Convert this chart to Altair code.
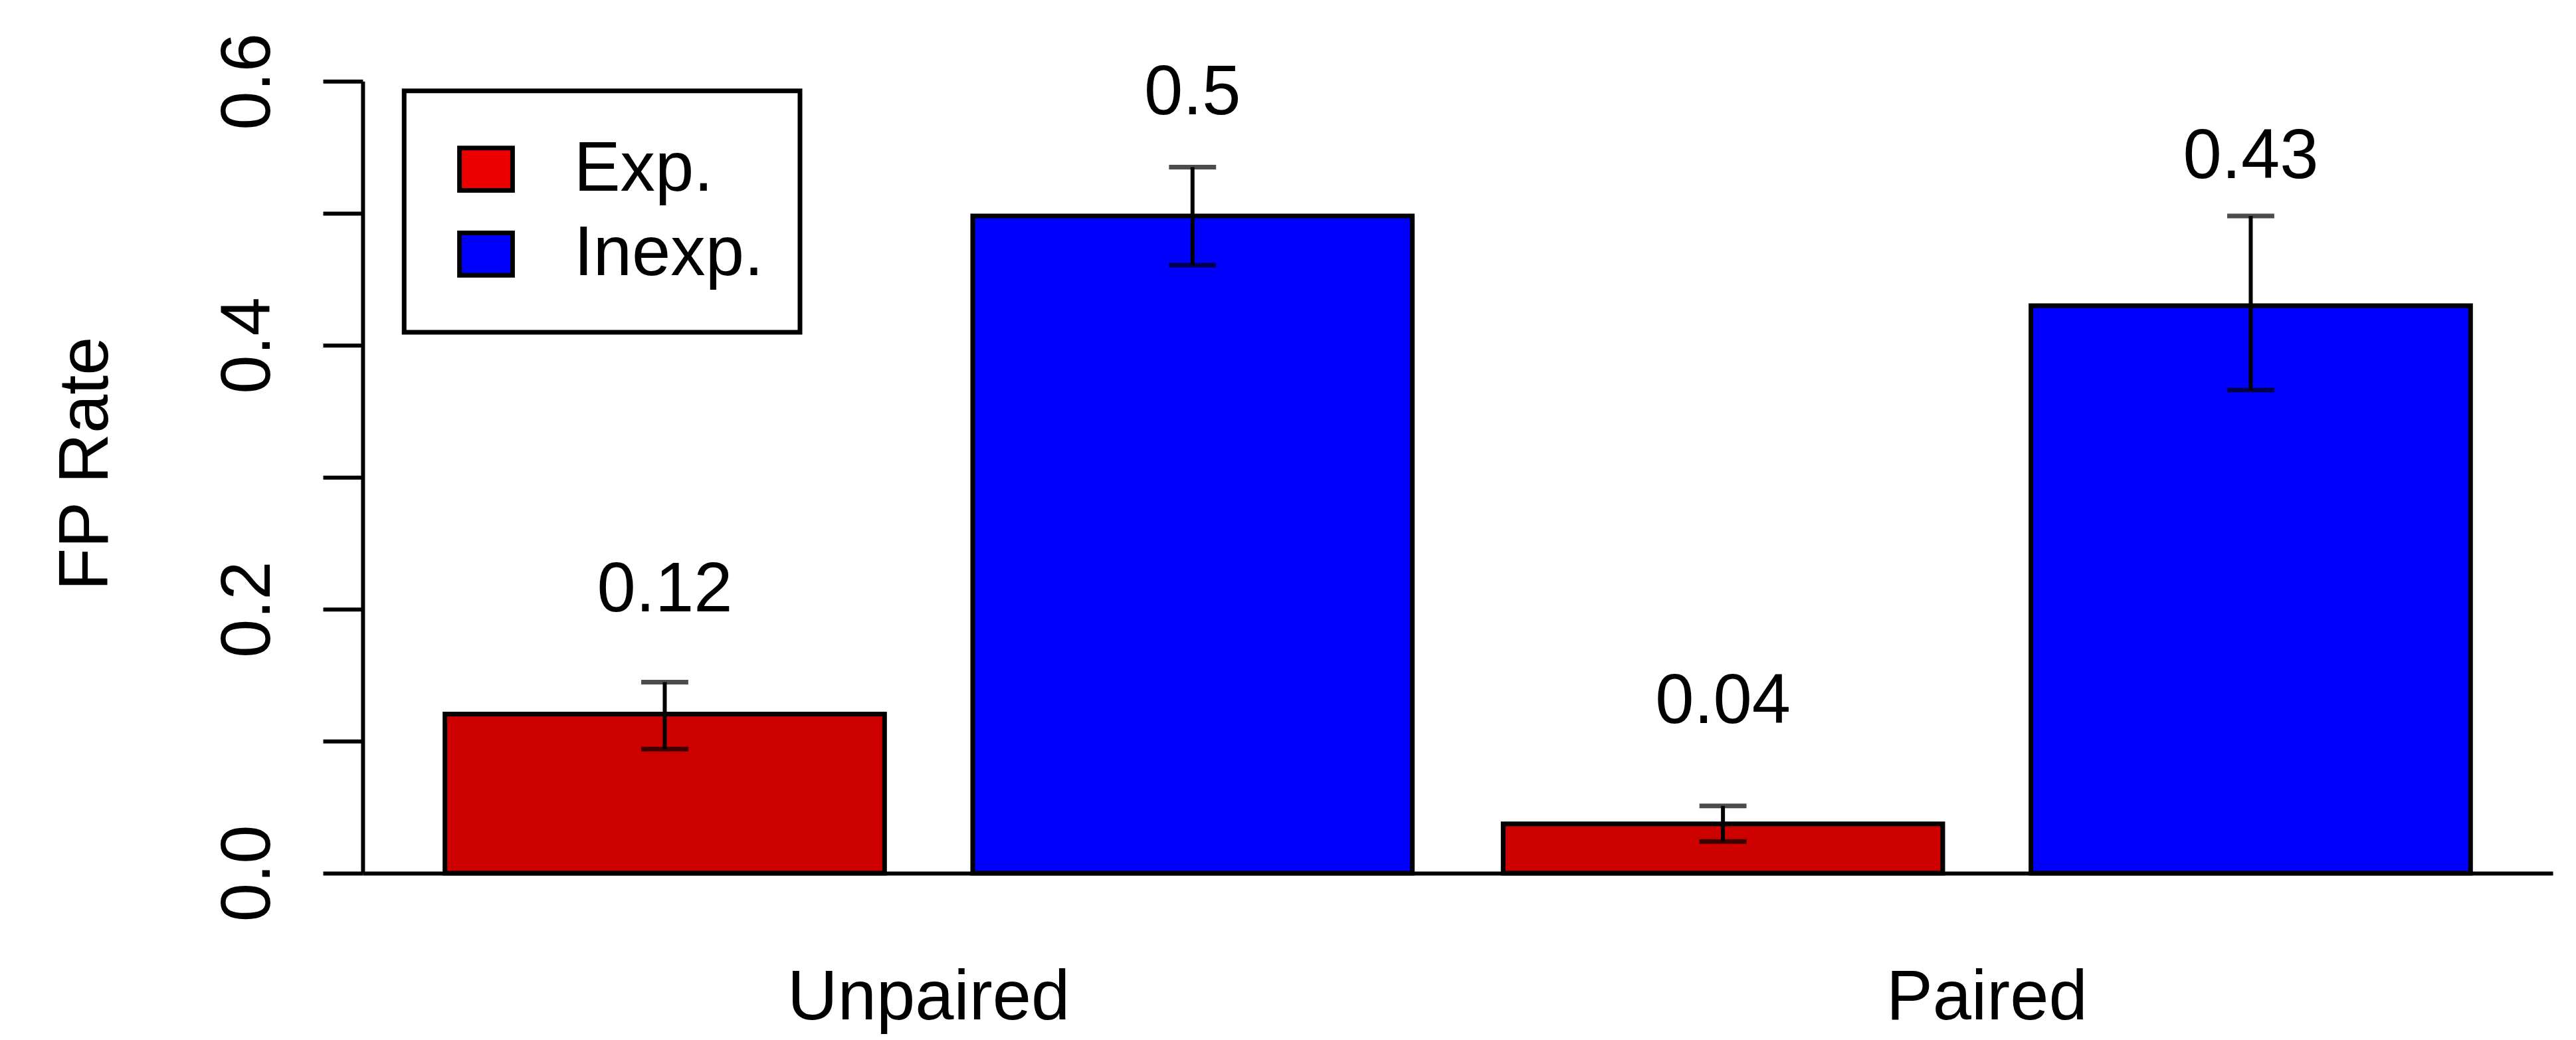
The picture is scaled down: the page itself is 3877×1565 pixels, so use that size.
import altair as alt
import pandas as pd

# ---- data ----
groups = ["Unpaired", "Unpaired", "Paired", "Paired"]
series = ["Exp.", "Inexp.", "Exp.", "Inexp."]
rates = [0.1206, 0.498, 0.0373, 0.430]
err_low = [0.094, 0.4607, 0.024, 0.366]
err_high = [0.1447, 0.535, 0.0509, 0.498]
rate_labels = ["0.12", "0.5", "0.04", "0.43"]
label_heights = [0.1985, 0.575, 0.114, 0.5266]

group_order = ["Unpaired", "Paired"]
series_order = ["Exp.", "Inexp."]
bar_colors = ["#CD0000", "#0000FF"]
legend_colors = ["#EE0000", "#0000FF"]
y_ticks = [0.0, 0.1, 0.2, 0.3, 0.4, 0.5, 0.6]

df = pd.DataFrame({
    "group": groups,
    "series": series,
    "rate": rates,
    "lo": err_low,
    "hi": err_high,
    "label": rate_labels,
    "label_y": label_heights,
})
legend_df = pd.DataFrame({"series": series_order})

FONT = "Liberation Sans"
FS = 105

x_enc = alt.X(
    "group:N", sort=group_order,
    scale=alt.Scale(paddingInner=0.0858, paddingOuter=0.0777),
    axis=alt.Axis(title=None, ticks=False, tickSize=0, labelPadding=220,
                  labelBaseline="alphabetic", labelAngle=0, labelFontSize=FS,
                  labelFont=FONT, labelColor="black", labelLimit=0,
                  domainColor="black", domainWidth=6, grid=False),
)
xo_enc = alt.XOffset("series:N", sort=series_order,
                     scale=alt.Scale(paddingInner=0.167, paddingOuter=0))
y_scale = alt.Scale(domain=[0, 0.6], nice=False, zero=True)
y_axis = alt.Axis(
    title="FP Rate", values=y_ticks,
    labelExpr="round(datum.value*10) % 2 == 0 ? format(datum.value, '.1f') : ''",
    labelAngle=270, labelAlign="center", labelBaseline="alphabetic",
    labelPadding=81, tickSize=60, tickWidth=6, tickColor="black",
    domainColor="black", domainWidth=6, labelFontSize=FS, labelFont=FONT,
    labelColor="black", labelOverlap=False, labelFlush=False, labelLimit=0,
    titleFontSize=FS, titleFont=FONT, titleFontWeight="normal",
    titleColor="black", titleAngle=270, titleAlign="center",
    titleBaseline="alphabetic", titleX=-385, titleY=576, grid=False,
)

base = alt.Chart(df)

bars = base.mark_bar(stroke="black", strokeWidth=7).encode(
    x=x_enc, xOffset=xo_enc,
    y=alt.Y("rate:Q", scale=y_scale, axis=y_axis),
    color=alt.Color("series:N", sort=series_order,
                    scale=alt.Scale(domain=series_order, range=bar_colors),
                    legend=None),
)

stems = base.mark_rule(color="black", strokeWidth=6).encode(
    x=x_enc, xOffset=xo_enc,
    y=alt.Y("lo:Q", scale=y_scale), y2="hi:Q",
)
caps_lo = base.mark_tick(color="black", thickness=7, size=71).encode(
    x=x_enc, xOffset=xo_enc, y=alt.Y("lo:Q", scale=y_scale),
)
caps_hi = base.mark_tick(color="black", thickness=7, size=71).encode(
    x=x_enc, xOffset=xo_enc, y=alt.Y("hi:Q", scale=y_scale),
)
texts = base.mark_text(font=FONT, fontSize=FS, color="black",
                       align="center", baseline="alphabetic").encode(
    x=x_enc, xOffset=xo_enc, y=alt.Y("label_y:Q", scale=y_scale), text="label:N",
)

legend_layer = alt.Chart(legend_df).mark_point(filled=True, opacity=0).encode(
    color=alt.Color(
        "series:N", sort=series_order,
        scale=alt.Scale(domain=series_order, range=legend_colors),
        legend=alt.Legend(
            title=None, orient="none", legendX=62.5, legendY=14.5,
            direction="vertical", strokeColor="black",
            fillColor="white", padding=54,
            symbolType="M-1,-0.8H1V0.8H-1Z", symbolSize=6400,
            symbolStrokeColor="black", symbolStrokeWidth=7, symbolOpacity=1,
            symbolOffset=17, labelOffset=80,
            labelFontSize=FS, labelFont=FONT, labelColor="black", labelLimit=0,
            clipHeight=128, rowPadding=0,
        ),
    )
)

chart = alt.layer(bars, stems, caps_lo, caps_hi, texts, legend_layer).resolve_scale(
    color="independent"
).properties(
    width=3303, height=1194,
    padding={"left": 539, "top": 113, "right": 27, "bottom": 242},
    autosize=alt.AutoSizeParams(type="none"),
    background="white",
).configure_view(strokeWidth=0).configure_legend(strokeWidth=7)

chart.save("out.html", embed_options={"renderer": "svg", "actions": False})
